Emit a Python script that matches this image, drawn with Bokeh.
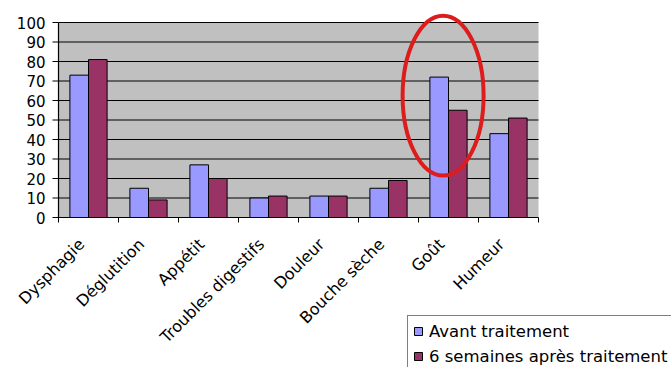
import numpy as np
from math import pi
from bokeh.plotting import figure
from bokeh.models import Range1d, Legend, LegendItem
from bokeh.core.properties import value
from bokeh.embed import file_html
from bokeh.resources import INLINE

categories = ["Dysphagie", "Déglutition", "Appétit", "Troubles digestifs",
              "Douleur", "Bouche sèche", "Goût", "Humeur"]
avant = [73, 15, 27, 10, 11, 15, 72, 43]
apres = [81, 9, 20, 11, 11, 19, 55, 51]
series_names = ["Avant traitement", "6 semaines après traitement"]
y_ticks = list(range(0, 101, 10))
y_tick_labels = [str(t) for t in y_ticks]
highlight = "Goût"

FONT = "DejaVu Sans"
W, H = 671, 367
PX_X = 60.0      # pixels per category
PX_Y = 1.95      # pixels per unit
LEFT_PX = 58     # frame left of plot area
ZERO_PX = 217    # pixel row of value 0

n = len(categories)
p = figure(width=W, height=H, output_backend="svg", toolbar_location=None,
           x_range=Range1d(-LEFT_PX / PX_X, (W - LEFT_PX) / PX_X),
           y_range=Range1d(-(H - ZERO_PX) / PX_Y, ZERO_PX / PX_Y),
           x_axis_location=None, y_axis_location=None,
           min_border=0)
p.min_border_left = p.min_border_right = p.min_border_top = p.min_border_bottom = 0
p.outline_line_color = None
p.background_fill_color = "white"
p.border_fill_color = "white"
p.xgrid.visible = False
p.ygrid.visible = False

ymax = y_ticks[-1]
# grey plot area
p.quad(left=[0], right=[n], bottom=[0], top=[ymax], fill_color="#c0c0c0",
       line_color=None)
# horizontal gridlines
gy = y_ticks[1:]
p.segment(x0=[0] * len(gy), y0=gy, x1=[n] * len(gy), y1=gy,
          line_color="black", line_width=1.2)

idx = np.arange(n)
w = 0.31
r1 = p.vbar(x=idx + 0.5 - 0.155, top=avant, width=w, fill_color="#9999ff",
            line_color="black", line_width=1)
r2 = p.vbar(x=idx + 0.5 + 0.155, top=apres, width=w, fill_color="#993366",
            line_color="black", line_width=1)

# axis lines
p.segment(x0=[0, 0], y0=[0, 0], x1=[0, n], y1=[ymax, 0], line_color="black",
          line_width=1.2)
# y ticks
p.segment(x0=[-6 / PX_X] * len(y_ticks), y0=y_ticks, x1=[0] * len(y_ticks),
          y1=y_ticks, line_color="black", line_width=1)
p.text(x=[-13 / PX_X] * len(y_ticks), y=y_ticks, text=y_tick_labels,
       text_align="right", text_baseline="middle", text_font=value(FONT),
       text_font_size=value("15px"), text_color="black")
# x ticks at category boundaries
bx = list(range(n + 1))
p.segment(x0=bx, y0=[0] * len(bx), x1=bx, y1=[-5 / PX_Y] * len(bx),
          line_color="black", line_width=1)
# rotated category labels
p.text(x=idx + 0.5 - 7 / PX_X, y=[-24 / PX_Y] * n, text=categories,
       angle=pi / 4, text_align="right", text_baseline="middle",
       text_font=value(FONT), text_font_size=value("16px"), text_color="black")

# highlight ellipse around Goût
hi = categories.index(highlight)
p.ellipse(x=[hi + 0.41], y=[62.5], width=1.35, height=82, fill_color=None,
          line_color="#dd1c1c", line_width=4)

legend = Legend(items=[LegendItem(label=series_names[0], renderers=[r1]),
                       LegendItem(label=series_names[1], renderers=[r2])],
                location=(407, -5), orientation="vertical",
                label_text_font=FONT, label_text_font_size="16.5px",
                label_text_color="black", glyph_width=10, glyph_height=10,
                label_height=20, label_standoff=6, padding=5, spacing=5,
                margin=0,
                border_line_color="black", border_line_width=1,
                background_fill_color="white", background_fill_alpha=1)
p.add_layout(legend, "center")

open("out.html", "w").write(file_html(p, INLINE))
